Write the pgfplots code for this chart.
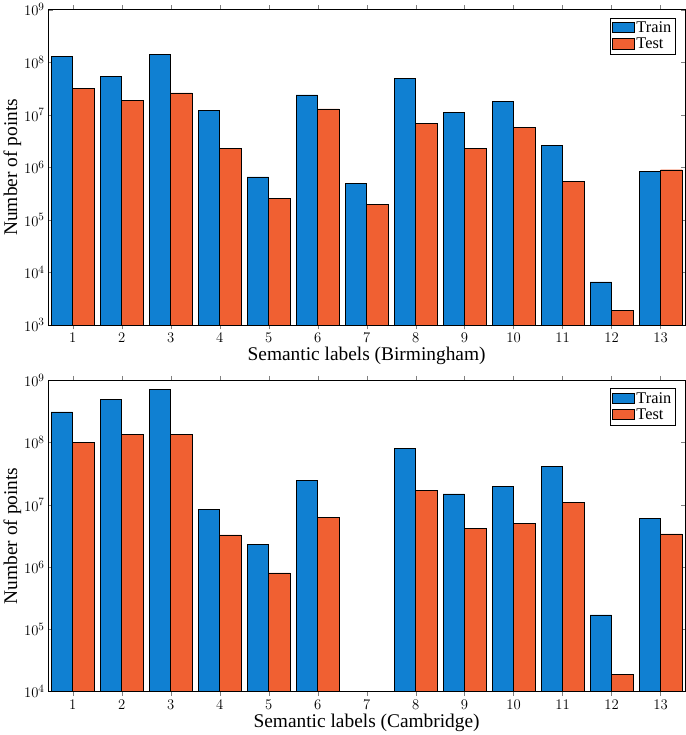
\documentclass[border=0pt]{standalone}
\usepackage{pgfplots}
\pgfplotsset{compat=1.18}
\usepackage{fontspec}
\setmainfont{Liberation Serif}
\definecolor{tr}{RGB}{16,128,210}
\definecolor{te}{RGB}{240,96,50}
\pgfplotsset{
  every axis/.append style={
  width=622bp, scale only axis,
  xmin=0.5, xmax=13.5, xtick={1,...,13},
  tick align=inside, xtick pos=both, ytick pos=both,
  tick label style={font=\fontsize{15}{17}\selectfont},
  label style={font=\fontsize{19}{21}\selectfont},
  ylabel={Number of points},
  ylabel style={yshift=-4pt},
  xlabel style={yshift=2pt},
  minor tick style={draw=none},
  legend style={at={(0.985,0.975)},anchor=north east, font=\fontsize{16}{17}\selectfont, inner sep=2pt, row sep=0pt, cells={anchor=west}},
  },
  mybarleg/.style={legend image code/.code={\draw[##1,draw=black,line width=0.4pt] (0cm,-0.16cm) rectangle (0.75cm,0.2cm);}},
}
\begin{document}
\begin{tikzpicture}
\begin{semilogyaxis}[height=308bp, ymin=1e3, ymax=1e9, log origin=infty, ybar=0pt, bar width=21bp,
  xlabel={Semantic labels (Birmingham)}]
\addplot[fill=tr,draw=black,line width=0.4pt,mybarleg] coordinates {(1,1.3e8)(2,5.4e7)(3,1.4e8)(4,1.2e7)(5,6.6e5)(6,2.4e7)(7,5.0e5)(8,4.9e7)(9,1.1e7)(10,1.8e7)(11,2.6e6)(12,6.6e3)(13,8.3e5)};
\addplot[fill=te,draw=black,line width=0.4pt,mybarleg] coordinates {(1,3.2e7)(2,1.9e7)(3,2.6e7)(4,2.3e6)(5,2.6e5)(6,1.3e7)(7,2.0e5)(8,6.9e6)(9,2.3e6)(10,5.7e6)(11,5.4e5)(12,1.9e3)(13,9.0e5)};
\legend{Train,Test}
\end{semilogyaxis}
\begin{semilogyaxis}[at={(0,-358bp)}, height=304bp, ymin=1e4, ymax=1e9, log origin=infty, ybar=0pt, bar width=21bp,
  xlabel={Semantic labels (Cambridge)}]
\addplot[fill=tr,draw=black,line width=0.4pt,mybarleg] coordinates {(1,3.1e8)(2,4.9e8)(3,7.1e8)(4,8.5e6)(5,2.3e6)(6,2.5e7)(8,8.1e7)(9,1.5e7)(10,2.0e7)(11,4.2e7)(12,1.7e5)(13,6.0e6)};
\addplot[fill=te,draw=black,line width=0.4pt,mybarleg] coordinates {(1,1.0e8)(2,1.35e8)(3,1.35e8)(4,3.3e6)(5,8.1e5)(6,6.3e6)(8,1.7e7)(9,4.2e6)(10,5.0e6)(11,1.1e7)(12,1.9e4)(13,3.4e6)};
\legend{Train,Test}
\end{semilogyaxis}
\end{tikzpicture}
\end{document}
